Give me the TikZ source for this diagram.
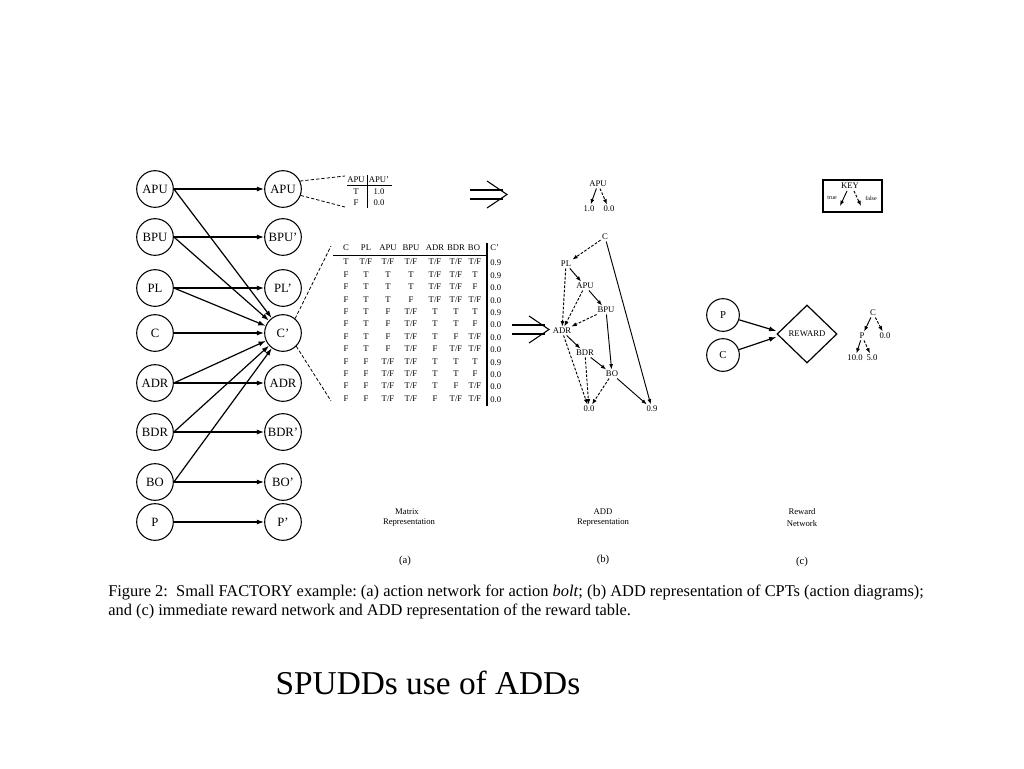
\documentclass[tikz,border=0pt]{standalone}
\usepackage{fontspec}
\setmainfont{Liberation Serif}
\usetikzlibrary{arrows.meta,shapes.geometric,calc}
\begin{document}
\begin{tikzpicture}[x=0.75pt,y=-0.75pt,
 st/.style={circle,draw,line width=0.8pt,minimum size=27.5pt,inner sep=0pt,font=\fontsize{9.5}{10}\selectfont},
 rst/.style={st,minimum size=24.5pt,font=\fontsize{8}{9}\selectfont},
 arr/.style={line width=0.9pt,-{Latex[length=5.5pt,width=3.8pt]}},
 dl/.style={line width=0.6pt,dash pattern=on 2.5pt off 1.5pt},
 tb/.style={font=\fontsize{6.5}{7}\selectfont,inner sep=0pt},
 add/.style={font=\fontsize{6.5}{7}\selectfont,inner sep=1pt},
 ta/.style={line width=0.7pt,-{Latex[length=4pt,width=3pt]}},
 fa/.style={ta,dash pattern=on 2pt off 1.2pt},
 lab/.style={font=\fontsize{6.5}{7.5}\selectfont,inner sep=0pt},
 sub/.style={font=\fontsize{8}{9}\selectfont,inner sep=0pt},
 figcap/.style={anchor=base west,font=\fontsize{12.3}{14}\selectfont,inner sep=0pt},
]
\useasboundingbox (0,0) rectangle (1024,768);
\fill[white] (0,0) rectangle (1024,768);

% ---- action network ----
\foreach \n/\t/\y in {a/APU/189,b/BPU/237,p/PL/288,c/C/333,ad/ADR/383,bd/BDR/432,bo/BO/482,pp/P/522}
  \node[st] (L\n) at (155,\y) {\t};
\foreach \n/\t/\y in {a/APU/189,b/BPU'/237,p/PL'/288,c/C'/333,ad/ADR/383,bd/BDR'/432,bo/BO'/482,pp/P'/522}
  \node[st] (R\n) at (283,\y) {\t};
\foreach \n in {a,b,p,c,ad,bd,bo,pp}
  \draw[arr] (L\n) -- (R\n);
\foreach \n in {a,b,p,ad,bd,bo}
  \draw[arr] (L\n.east) -- (Rc);

% ---- APU table ----
\node[tb] (ha) at (356,180) {APU};
\node[tb] (hb) at (379,180) {APU'};
\node[tb] (ta1) at (356,192) {T};
\node[tb] (tb1) at (379,192) {1.0};
\node[tb] (ta2) at (356,203) {F};
\node[tb] (tb2) at (379,203) {0.0};
\coordinate (u1) at (347,185); \coordinate (u2) at (392,185);
\coordinate (v1) at (367,175); \coordinate (v2) at (367,208);
\draw[line width=0.7pt] (u1) -- (u2);
\draw[line width=0.6pt] (v1) -- (v2);
\coordinate (d1) at (345,176); \coordinate (d2) at (345,207);
\draw[dl] (Ra.25) -- (d1);
\draw[dl] (Ra.-20) -- (d2);

% ---- big table ----
\foreach \t/\x in {C/346,PL/366,APU/388,BPU/411,ADR/435,BDR/456,BO/474}
  \node[tb] (h\t) at (\x,248) {\t};
\node[tb,anchor=west] (hCp) at (490,248) {C'};
\coordinate (w1) at (333,255); \coordinate (w2) at (487,255);
\coordinate (z1) at (487,243); \coordinate (z2) at (487,406);
\draw[line width=0.7pt] (w1) -- (w2);
\draw[line width=1.6pt] (z1) -- (z2);
\foreach \r [count=\i] in {
 {T,T/F,T/F,T/F,T/F,T/F,T/F},
 {F,T,T,T,T/F,T/F,T},
 {F,T,T,T,T/F,T/F,F},
 {F,T,T,F,T/F,T/F,T/F},
 {F,T,F,T/F,T,T,T},
 {F,T,F,T/F,T,T,F},
 {F,T,F,T/F,T,F,T/F},
 {F,T,F,T/F,F,T/F,T/F},
 {F,F,T/F,T/F,T,T,T},
 {F,F,T/F,T/F,T,T,F},
 {F,F,T/F,T/F,T,F,T/F},
 {F,F,T/F,T/F,F,T/F,T/F}}{
  \foreach \v [count=\j] in \r {
    \pgfmathsetmacro{\xx}{{346,366,388,411,435,456,475}[\j-1]}
    \node[tb] (t\i-\j) at (\xx,{262+(\i-1)*12.4}) {\v};
  }
}
\foreach \v [count=\i] in {0.9,0.9,0.0,0.0,0.9,0.0,0.0,0.0,0.9,0.0,0.0,0.0}
  \node[tb,anchor=west] (tv\i) at (490,{263+(\i-1)*12.4}) {\v};
\coordinate (e1) at (331,246); \coordinate (e2) at (331,401);
\draw[dl] (Rc.50) -- (e1);
\draw[dl] (Rc.-45) -- (e2);

% ---- double arrows ----
\draw[line width=0.8pt] (470,190) -- (503,190) (470,199) -- (503,199);
\draw[line width=0.8pt] (487,181) -- (507,194.5) -- (487,208);
\draw[line width=0.8pt] (512,325) -- (545,325) (512,334) -- (545,334);
\draw[line width=0.8pt] (529,316) -- (549,329.5) -- (529,343);

% ---- small APU ADD ----
\node[add] (sA) at (598,184) {APU};
\node[add] (s1) at (589,209) {1.0};
\node[add] (s0) at (609,209) {0.0};
\draw[ta] (sA) -- (s1);
\draw[fa] (sA) -- (s0);

% ---- ADD for C' ----
\node[add] (aC) at (605,237) {C};
\node[add] (aPL) at (566,264) {PL};
\node[add] (aAPU) at (585,286) {APU};
\node[add] (aBPU) at (606,310) {BPU};
\node[add] (aADR) at (562,331) {ADR};
\node[add] (aBDR) at (585,353) {BDR};
\node[add] (aBO) at (612,374) {BO};
\node[add] (a0) at (589,409) {0.0};
\node[add] (a9) at (652,409) {0.9};
\draw[fa] (aC) -- (aPL);
\draw[ta] (aC) -- (a9);
\draw[ta] (aPL) -- (aAPU);
\draw[fa] (aPL) -- (aADR);
\draw[ta] (aAPU) -- (aBPU);
\draw[fa] (aAPU) -- (aADR);
\draw[ta] (aBPU) -- (aBO);
\draw[fa] (aBPU) -- (aADR);
\draw[ta] (aADR) -- (aBDR);
\draw[fa] (aADR) -- (a0);
\draw[ta] (aBDR) -- (aBO);
\draw[fa] (aBDR) -- (a0);
\draw[ta] (aBO) -- (a9);
\draw[fa] (aBO) -- (a0);

% ---- KEY ----
\node[draw,line width=1.2pt,minimum width=44pt,minimum height=24pt,inner sep=0pt] (key) at (852.5,196) {};
\node[add] (kK) at (850,186) {KEY};
\node[font=\fontsize{4.5}{5}\selectfont,inner sep=0pt] (kt) at (832,198) {true};
\node[font=\fontsize{4.5}{5}\selectfont,inner sep=0pt] (kf) at (871,198) {false};
\coordinate (k1) at (847,191); \coordinate (k2) at (840,206);
\coordinate (k3) at (854,191); \coordinate (k4) at (861,206);
\draw[ta] (k1) -- (k2);
\draw[fa] (k3) -- (k4);

% ---- reward network ----
\node[rst] (rP) at (723,315) {P};
\node[rst] (rC) at (723,355) {C};
\node[diamond,draw,line width=0.9pt,minimum width=45pt,minimum height=43.5pt,inner sep=0pt,font=\fontsize{6.5}{7}\selectfont] (rw) at (807,334) {REWARD};
\draw[arr] (rP) -- ($(rw.west)+(0,-3)$);
\draw[arr] (rC) -- ($(rw.west)+(0,3)$);
\node[add] (qC) at (873,313) {C};
\node[add] (qP) at (862,336) {P};
\node[add] (q0) at (885,336) {0.0};
\node[add] (q10) at (855,358) {10.0};
\node[add] (q5) at (872,358) {5.0};
\draw[ta] (qC) -- (qP);
\draw[fa] (qC) -- (q0);
\draw[ta] (qP) -- (q10);
\draw[fa] (qP) -- (q5);

% ---- sub captions ----
\node[lab] (m1) at (407,512) {Matrix};
\node[lab] (m2) at (409,523) {Representation};
\node[lab] (n1) at (603,512) {ADD};
\node[lab] (n2) at (603,523) {Representation};
\node[lab] (o1) at (802,512) {Reward};
\node[lab] (o2) at (802,524) {Network};
\node[sub] (ca) at (405,561) {(a)};
\node[sub] (cb) at (603,560) {(b)};
\node[sub] (cc) at (802,562) {(c)};

% ---- figure caption ----
\node[figcap] (f1) at (108,596) {Figure 2:\ \ Small FACTORY example:\ (a) action network for action \textit{bolt}; (b) ADD representation of CPTs (action diagrams);};
\node[figcap] (f2) at (108,615) {and (c) immediate reward network and ADD representation of the reward table.};

% ---- title ----
\node[font=\fontsize{25}{30}\selectfont,inner sep=0pt] (title) at (428,683) {SPUDDs use of ADDs};
\end{tikzpicture}
\end{document}
